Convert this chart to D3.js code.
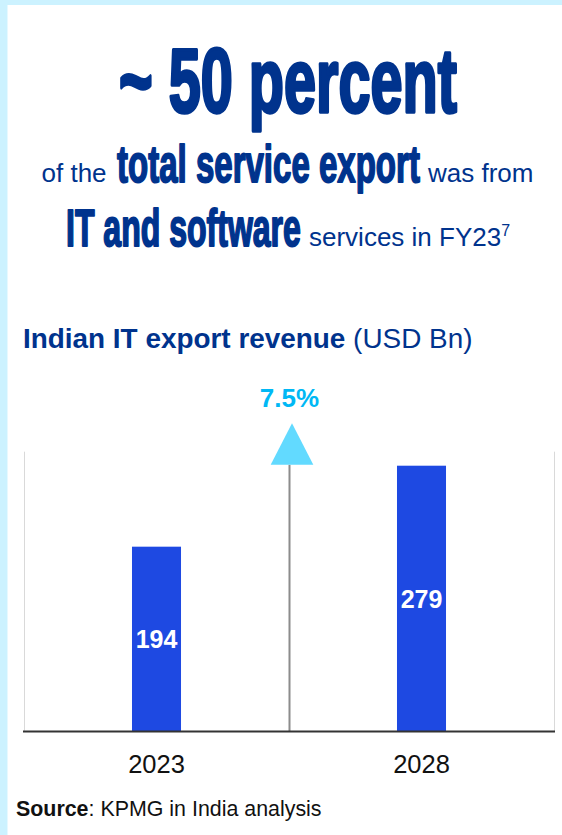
<!DOCTYPE html>
<html>
<head>
<meta charset="utf-8">
<script src="https://cdn.jsdelivr.net/npm/d3@7"></script>
<style>
  html, body { margin: 0; padding: 0; background: #ffffff; }
  svg { display: block; }
</style>
</head>
<body>
<svg id="chart" width="562" height="835"></svg>
<script>
// ---- data ----
const years = ["2023", "2028"];
const revenue = [194, 279];
const growthLabel = "7.5%";
const chartTitleBold = "Indian IT export revenue";
const chartTitleUnit = " (USD Bn)";
const sourceBold = "Source";
const sourceText = ": KPMG in India analysis";

// ---- styles ----
const navy = "#00338D";
const cobalt = "#1E49E2";
const lightBlue = "#00B8F5";
const triBlue = "#62DAFF";
const frame = "#CCF2FF";
const condensed = "'Liberation Sans Narrow', 'Liberation Sans', Arial, sans-serif";
const sans = "'Liberation Sans', Arial, Helvetica, sans-serif";

const svg = d3.select("#chart");

// frame
svg.append("rect").attr("x", 0).attr("y", 0).attr("width", 562).attr("height", 835).attr("fill", frame);
svg.append("rect").attr("x", 7.5).attr("y", 5).attr("width", 562 - 7.5).attr("height", 835 - 5).attr("fill", "#ffffff");

// ---- header ----
function seg(x, y, txt, opts) {
  const t = svg.append("text")
    .attr("fill", navy)
    .attr("font-family", opts.cond ? condensed : sans)
    .attr("font-weight", opts.cond ? "bold" : "normal")
    .attr("font-size", opts.size)
    .text(txt);
  if (opts.len) {
    const natural = t.node().getComputedTextLength();
    const sx = opts.len / natural;
    const sy = opts.sy || 1;
    t.attr("transform", `translate(${x},${y}) scale(${sx},${sy})`);
    t.attr("stroke", navy).attr("stroke-width", (opts.sw || 1) / sx).attr("stroke-linejoin", "round");
  } else {
    t.attr("x", x).attr("y", y);
  }
  return t;
}

seg(119, 111.5, "~ 50 percent", { cond: true, size: 90, sy: 1.0, len: 338, sw: 2.2 });

seg(41.5, 181.5, "of the", { size: 26 });
seg(117, 181.5, "total service export", { cond: true, size: 51, len: 303, sw: 1.2 });
seg(428, 181.5, "was from", { size: 26 });

seg(66, 246, "IT and software", { cond: true, size: 52, len: 235, sw: 1.2 });
const svcText = seg(309, 246, "services in FY23", { size: 26 });
svcText.append("tspan").attr("font-size", 16).attr("dy", -10).text("7");

// ---- chart title ----
const title = svg.append("text")
  .attr("x", 23).attr("y", 347.5)
  .attr("fill", navy)
  .attr("font-family", sans)
  .attr("font-size", 27.9);
title.append("tspan").attr("font-weight", "bold").text(chartTitleBold);
title.append("tspan").attr("font-weight", "normal").text(chartTitleUnit);

// ---- chart ----
const plotLeft = 24, plotRight = 554, baseY = 731.5;
const x = d3.scaleBand().domain(years).range([plotLeft, plotRight]).padding(0);
const y = d3.scaleLinear().domain([0, 300]).range([baseY, baseY - 285.8]);
const barW = x.bandwidth() * 0.185;

// side gridlines
[plotLeft, plotRight].forEach(gx => {
  svg.append("line")
    .attr("x1", gx + 0.5).attr("x2", gx + 0.5)
    .attr("y1", y(300) + 6).attr("y2", baseY)
    .attr("stroke", "#d9d9d9").attr("stroke-width", 1);
});

// bars
svg.selectAll("rect.bar").data(years).enter().append("rect")
  .attr("class", "bar")
  .attr("x", d => x(d) + x.bandwidth() / 2 - barW / 2)
  .attr("width", barW)
  .attr("y", (d, i) => y(revenue[i]))
  .attr("height", (d, i) => baseY - y(revenue[i]))
  .attr("fill", cobalt);

// value labels
svg.selectAll("text.val").data(years).enter().append("text")
  .attr("class", "val")
  .attr("x", d => x(d) + x.bandwidth() / 2)
  .attr("y", (d, i) => (y(revenue[i]) + baseY) / 2 + 9)
  .attr("text-anchor", "middle")
  .attr("fill", "#ffffff")
  .attr("font-family", sans)
  .attr("font-weight", "bold")
  .attr("font-size", 25)
  .text((d, i) => revenue[i]);

// divider + growth arrow
const midX = (x(years[0]) + x(years[1]) + x.bandwidth()) / 2 + 0.5;
const triBase = y(279) - 1;
svg.append("line")
  .attr("x1", midX).attr("x2", midX)
  .attr("y1", triBase).attr("y2", baseY)
  .attr("stroke", "#8c8c8c").attr("stroke-width", 2);
const triCx = midX + 2.5;
svg.append("path")
  .attr("d", `M${triCx - 21.3},${triBase} L${triCx},${triBase - 41.5} L${triCx + 21.3},${triBase} Z`)
  .attr("fill", triBlue);
svg.append("text")
  .attr("x", midX).attr("y", 406.5)
  .attr("text-anchor", "middle")
  .attr("fill", lightBlue)
  .attr("font-family", sans)
  .attr("font-weight", "bold")
  .attr("font-size", 26)
  .text(growthLabel);

// baseline (x axis)
const xAxis = d3.axisBottom(x).tickSize(0).tickPadding(23);
const gx = svg.append("g").attr("transform", `translate(0,${baseY})`).call(xAxis);
gx.select(".domain").attr("stroke", "#333333").attr("stroke-width", 2)
  .attr("d", `M${plotLeft - 1},0H${plotRight + 1}`);
gx.selectAll(".tick text")
  .attr("font-family", sans)
  .attr("font-size", 25.5)
  .attr("fill", "#111111")
  .attr("dy", "0.71em");

// source
const src = svg.append("text")
  .attr("x", 16).attr("y", 816)
  .attr("fill", "#111111")
  .attr("font-family", sans)
  .attr("font-size", 21.4);
src.append("tspan").attr("font-weight", "bold").text(sourceBold);
src.append("tspan").text(sourceText);
</script>
</body>
</html>
